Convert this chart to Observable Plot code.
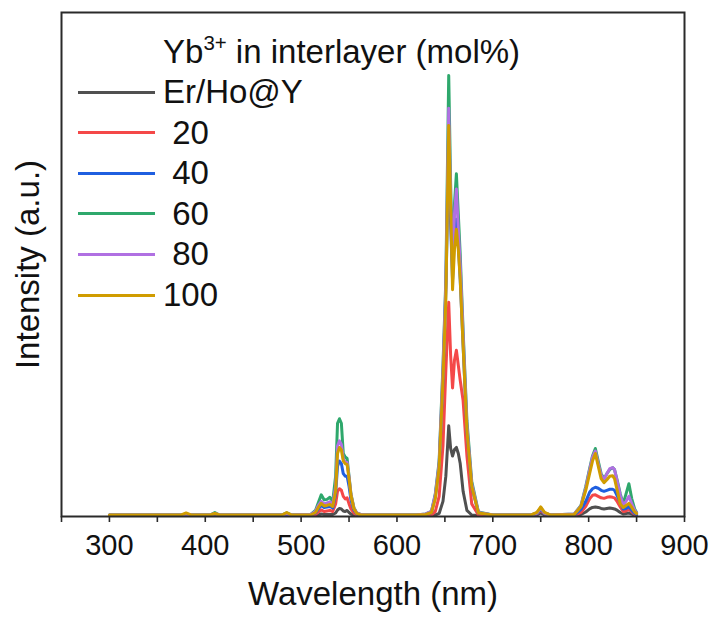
<!DOCTYPE html>
<html><head><meta charset="utf-8">
<script src="https://cdn.jsdelivr.net/npm/d3@7"></script>
<script src="https://cdn.jsdelivr.net/npm/@observablehq/plot@0.6"></script>
<style>
body{margin:0;background:#fff;}
#wrap{position:relative;width:718px;height:621px;font-family:"Liberation Sans",Arial,sans-serif;color:#111;}
.lg{position:absolute;white-space:pre;font-size:33px;line-height:33px;}
.row{position:absolute;left:78px;display:flex;align-items:center;height:40px;white-space:pre;font-size:33px;}
.sw{width:77px;height:3px;margin-right:8px;}
</style></head><body><div id="wrap"></div>
<script>
const wavelength = [300,375,380,385,405,410,415,480,485,490,
 510,515,518,521,524,527,530,533,536,538,540,542,544,546,548,550,552,555,558,562,570,
 620,630,636,640,644,648,651,654,656,658,660,662,664,666,669,673,678,685,700,
 740,746,750,754,760,
 785,792,797,801,804,807,810,813,816,819,822,825,827,830,833,836,839,842,845,848,850];

const seriesNames = ["Er/Ho@Y", " 20", " 40", " 60", " 80", "100"];
const seriesColors = ["#505050", "#f44848", "#1f5fe0", "#2ea86c", "#b070e2", "#d09c00"];

const erHoY = [0.2,0.2,0.2,0.2,0.2,0.2,0.2,0.2,0.2,0.2,
 0.2,0.2,0.3,0.5,0.4,0.4,0.4,0.4,0.7,1.3,1.6,1.5,1.1,1.0,1.2,0.8,0.5,0.3,0.2,0.2,0.2,
 0.2,0.2,0.2,0.3,0.6,3,8,18,13.5,12,13.3,13.7,12.5,10.5,5,1.2,0.3,0.2,0.2,
 0.2,0.3,0.7,0.3,0.2,
 0.2,0.4,0.9,1.5,1.8,1.9,1.8,1.6,1.5,1.6,1.7,1.6,1.5,1.2,0.8,0.5,0.6,0.7,0.5,0.3,0.2];
const yb20 = [0.2,0.2,0.3,0.2,0.2,0.3,0.2,0.2,0.3,0.2,
 0.2,0.4,0.9,1.3,1.0,1.1,1.2,1.0,2.5,5,5.5,5.2,4,3.5,3.7,2.5,1.5,0.7,0.3,0.2,0.2,
 0.2,0.2,0.3,1,4,14,29,42.5,32,25.5,31,33,30,27,23,12,2.5,0.3,0.2,
 0.2,0.5,1.2,0.5,0.2,
 0.2,0.8,2,3.5,4.2,4.3,4,3.7,3.6,3.8,3.9,3.8,3.7,2.9,1.9,1.0,1.1,1.4,0.9,0.4,0.3];
const yb40 = [0.3,0.3,0.4,0.3,0.3,0.5,0.3,0.3,0.5,0.3,
 0.3,0.7,1.5,2.2,1.8,1.9,2.0,1.7,4.5,10,11,10.5,8.5,8,8,6,3.3,1.3,0.5,0.3,0.3,
 0.3,0.4,0.8,4,10,27,45,72,58,47,56,59,54,47,34,17,6,0.7,0.3,
 0.3,0.6,1.5,0.6,0.3,
 0.3,1.4,3,4.8,5.5,5.8,5.6,5.2,5,5.2,5.4,5.4,5.2,4,2.8,1.5,1.6,2,1.2,0.6,0.4];
const yb60 = [0.3,0.3,0.5,0.3,0.3,0.8,0.3,0.3,0.7,0.3,
 0.4,1.2,2.8,4.3,3.3,3.4,3.8,3.0,8,18.5,19.4,18.5,12.5,11.8,11.5,8,4.5,1.8,0.7,0.4,0.3,
 0.3,0.5,1,4.5,11,30,47,87.5,66,50,62,68,60,52,37,19,7,0.9,0.3,
 0.3,0.7,1.7,0.7,0.3,
 0.5,2.2,6,9.5,12,13.5,11,8.5,7.5,8.5,9.3,9.7,9.3,7,4.5,2.5,4.5,6.5,3.5,1.5,0.8];
const yb80 = [0.3,0.3,0.5,0.3,0.3,0.6,0.3,0.3,0.6,0.3,
 0.4,1.0,2.2,3.0,2.5,2.7,2.9,2.4,6,14,15,14.3,11.5,10.8,10.7,7.8,4.3,1.7,0.7,0.4,0.3,
 0.3,0.5,1,4.3,10.5,29,46,81,63,49,60,65,57,50,36,18,6.5,0.8,0.3,
 0.3,0.7,1.7,0.7,0.3,
 0.5,2.1,5.7,9.2,11.8,13,10.5,8.2,7.3,8.5,9.5,9.7,9.3,6.8,4.2,2.3,3,4,2.5,1.2,0.7];
const yb100 = [0.3,0.3,0.7,0.3,0.3,0.6,0.3,0.3,0.8,0.3,
 0.3,0.8,1.8,2.6,2.1,2.2,2.4,2.0,5,12.5,13.7,13.2,11,10.5,10.3,7.5,4.2,1.6,0.6,0.3,0.3,
 0.3,0.4,0.8,3.5,9.7,27,43,77.6,62,45,53,57,53,47,34,17,6,0.7,0.3,
 0.3,0.8,1.9,0.8,0.3,
 0.4,2,5.2,8.5,11,12.5,10,7.5,6.7,7.3,8,8.1,7.5,5,2.5,1.8,2.2,2.6,1.8,0.9,0.6];

const majorTicks = [300,400,500,600,700,800,900];
const minorTicks = [250,350,450,550,650,750,850];

const seriesValues = [erHoY, yb20, yb40, yb60, yb80, yb100];
const rows = [];
seriesValues.forEach((vals, i) => vals.forEach((v, j) =>
  rows.push({series: seriesNames[i], wavelength: wavelength[j], intensity: v})));

const font = '"Liberation Sans", Arial, sans-serif';
const chart = Plot.plot({
  width: 718, height: 621,
  marginLeft: 61, marginRight: 34, marginTop: 12, marginBottom: 105,
  x: {domain: [250, 900]},
  y: {domain: [0, 100]},
  color: {domain: seriesNames, range: seriesColors},
  style: {fontFamily: font, color: "#111", background: "#fff"},
  marks: [
    Plot.lineY(rows, {x: "wavelength", y: "intensity", z: "series", stroke: "series", strokeWidth: 3}),
    Plot.frame({stroke: "#2a2a2a", strokeWidth: 2}),
    Plot.axisX({ticks: majorTicks, tickSize: 6, tickPadding: 12, fontSize: 29, label: null, stroke: "#2a2a2a", strokeWidth: 1.6}),
    Plot.axisX({ticks: minorTicks, tickSize: 6, tickFormat: () => "", label: null, stroke: "#2a2a2a", strokeWidth: 1.6}),
    Plot.axisX({ticks: [], label: "Wavelength (nm)", labelAnchor: "center", labelArrow: "none", labelOffset: 88, fontSize: 33}),
    Plot.axisY({ticks: [], label: "Intensity (a.u.)", labelAnchor: "center", labelArrow: "none", labelOffset: 46, fontSize: 33})
  ]
});
const wrap = document.getElementById("wrap");
wrap.appendChild(chart);

const title = document.createElement("div");
title.className = "lg";
title.style.left = "163px"; title.style.top = "35px";
title.innerHTML = 'Yb<span style="font-size:0.62em;position:relative;top:-0.62em">3+</span> in interlayer (mol%)';
wrap.appendChild(title);
seriesNames.forEach((name, i) => {
  const r = document.createElement("div");
  r.className = "row";
  r.style.top = (72 + i * 40.6) + "px";
  const sw = document.createElement("div");
  sw.className = "sw"; sw.style.background = seriesColors[i];
  const t = document.createElement("span");
  t.textContent = name;
  r.appendChild(sw); r.appendChild(t);
  wrap.appendChild(r);
});
</script></body></html>
